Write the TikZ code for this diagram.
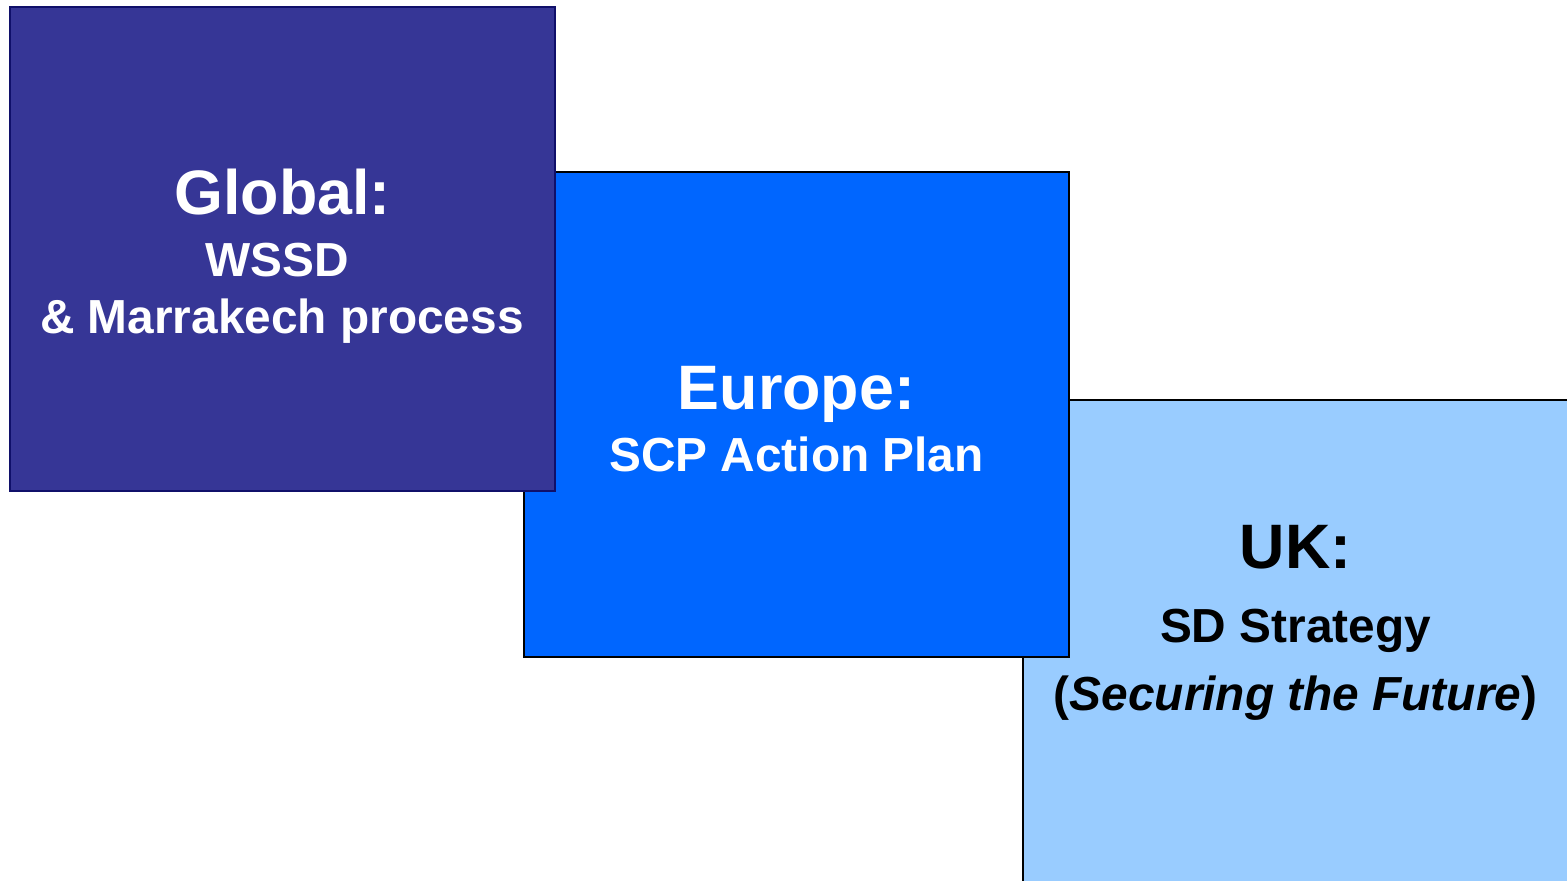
\documentclass[tikz,border=0pt]{standalone}
\usepackage{fontspec}
\setmainfont{Liberation Sans}
\usepackage{tikz}
\usetikzlibrary{positioning}

\definecolor{globalblue}{HTML}{363696}
\definecolor{globalline}{HTML}{10106A}
\definecolor{europeblue}{HTML}{0066FF}
\definecolor{ukblue}{HTML}{99CCFF}

\tikzset{
  levelbox/.style={rectangle,draw=black,line width=1pt,inner sep=0pt,minimum width=272.5pt,minimum height=242pt},
  headtxt/.style={anchor=base,inner sep=0pt,font=\fontsize{31.4}{36}\selectfont\bfseries},
  subtxt/.style={anchor=base,inner sep=0pt,font=\fontsize{23.9}{28}\selectfont\bfseries}
}

\begin{document}
\begin{tikzpicture}[x=0.5pt,y=-0.5pt]
\useasboundingbox (0,0) rectangle (1567,881);
%\tikzstyle{levelbox}=[rectangle,draw,minimum size=6mm]
    \node[levelbox,fill=ukblue] (UK) at (1295.5,642) {};
    \node[levelbox,fill=europeblue] (EU) at (796,414.5) {};
    \node[levelbox,fill=globalblue,draw=globalline] (GL) at (282.5,249) {};

\begin{scope}[every node/.style={text=white}]
    \node[headtxt] (GLhead) at (282.5,215) {Global:};
    \node[subtxt] (GLa) at (277,277) {WSSD};
    \node[subtxt] (GLb) at (282,334) {\& Marrakech process};
    \node[headtxt] (EUhead) at (796.5,410) {Europe:};
    \node[subtxt] (EUa) at (796.5,472) {SCP Action Plan};
\end{scope}
    \node[headtxt] (UKhead) at (1295.5,568) {UK:};
    \node[subtxt] (UKa) at (1295.5,642) {SD Strategy};
    \node[subtxt] (UKb) at (1295.5,710) {(\textit{Securing the Future})};
\end{tikzpicture}
\end{document}
